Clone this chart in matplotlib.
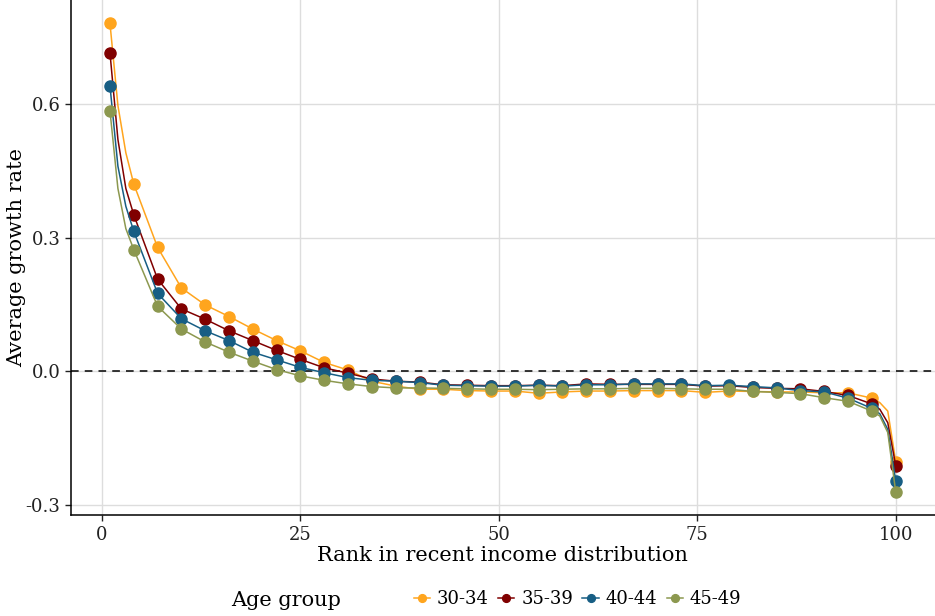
import numpy as np
import matplotlib
matplotlib.use("Agg")
import matplotlib.pyplot as plt

# ranks with markers (every 3rd) plus a few extra points
rank = [1, 2, 3, 4, 7, 10, 13, 16, 19, 22, 25, 28, 31, 34, 37, 40, 43, 46, 49, 52,
        55, 58, 61, 64, 67, 70, 73, 76, 79, 82, 85, 88, 91, 94, 97, 98, 99, 100]
extra = [1, 2, 35, 36]  # indexes of line-only points (no marker)

age_groups = ["30-34", "35-39", "40-44", "45-49"]
colors = ["#FFA51E", "#800000", "#175E84", "#8C984F"]

g3034 = [0.780, 0.596, 0.490, 0.420, 0.278, 0.187, 0.149, 0.123, 0.095, 0.069, 0.046, 0.020,
         0.003, -0.022, -0.033, -0.040, -0.040, -0.043, -0.044, -0.044, -0.049, -0.046,
         -0.044, -0.044, -0.043, -0.043, -0.043, -0.047, -0.044, -0.045, -0.046, -0.046,
         -0.048, -0.048, -0.060, -0.070, -0.089, -0.202]
g3539 = [0.714, 0.520, 0.410, 0.351, 0.207, 0.140, 0.117, 0.091, 0.069, 0.047, 0.027, 0.008,
         -0.004, -0.017, -0.022, -0.024, -0.030, -0.031, -0.032, -0.032, -0.031, -0.032,
         -0.028, -0.029, -0.029, -0.029, -0.029, -0.033, -0.032, -0.036, -0.038, -0.039,
         -0.045, -0.054, -0.073, -0.085, -0.115, -0.211]
g4044 = [0.640, 0.460, 0.370, 0.314, 0.175, 0.118, 0.091, 0.069, 0.043, 0.026, 0.009, -0.003,
         -0.014, -0.020, -0.022, -0.025, -0.031, -0.032, -0.033, -0.033, -0.031, -0.033,
         -0.030, -0.030, -0.028, -0.028, -0.028, -0.032, -0.031, -0.034, -0.037, -0.043,
         -0.046, -0.060, -0.083, -0.095, -0.130, -0.245]
g4549 = [0.584, 0.410, 0.320, 0.273, 0.146, 0.095, 0.066, 0.043, 0.023, 0.004, -0.010, -0.020,
         -0.028, -0.034, -0.037, -0.037, -0.038, -0.039, -0.040, -0.040, -0.041, -0.040,
         -0.039, -0.039, -0.038, -0.038, -0.039, -0.040, -0.040, -0.045, -0.047, -0.050,
         -0.059, -0.067, -0.089, -0.100, -0.137, -0.270]
series = [g3034, g3539, g4044, g4549]

plt.rcParams['font.family'] = ['DejaVu Serif']

fig = plt.figure(figsize=(9.35, 6.16), dpi=100)
ax = fig.add_axes([0.0756, 0.1635, 0.9244, 0.8365])

marks = [i for i in range(len(rank)) if i not in extra]
for name, vals, c in zip(age_groups, series, colors):
    ax.plot(rank, vals, color=c, lw=1.1, marker='o', markersize=8,
            markevery=marks, label=name, zorder=3)

ax.axhline(0, color='black', lw=1.1, ls=(0, (5, 4)), zorder=2)

ax.set_xlim(-3.95, 104.95)
ax.set_ylim(-0.3225, 0.8325)
ax.set_xticks([0, 25, 50, 75, 100])
ax.set_yticks([-0.3, 0.0, 0.3, 0.6])
ax.set_yticklabels(["-0.3", "0.0", "0.3", "0.6"])
ax.grid(True, color='#dddddd', lw=1.0, zorder=0)
ax.set_axisbelow(True)
for s in ['top', 'right']:
    ax.spines[s].set_visible(False)
for s in ['left', 'bottom']:
    ax.spines[s].set_linewidth(1.1)
ax.tick_params(labelsize=13, length=4, width=1.0, colors='#222222')
ax.set_xlabel("Rank in recent income distribution", fontsize=15, labelpad=2)
ax.set_ylabel("Average growth rate", fontsize=15)
ax.yaxis.set_label_coords(-0.052, 0.5)

handles, labels = ax.get_legend_handles_labels()
fig.text(0.365, 0.025, "Age group", fontsize=15, ha='right', va='center')
fig.legend(handles, labels, loc='center left', bbox_to_anchor=(0.425, 0.027), ncol=4,
           frameon=False, fontsize=13, handlelength=0.9, handletextpad=0.4,
           columnspacing=0.5, markerscale=0.7)

fig.savefig("out.png", dpi=100)
